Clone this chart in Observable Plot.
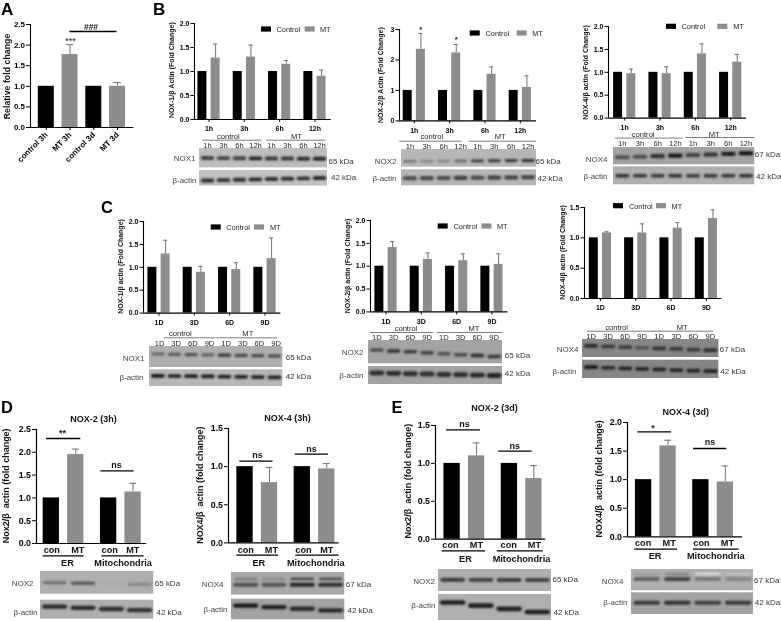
<!DOCTYPE html>
<html><head><meta charset="utf-8">
<script src="https://cdn.jsdelivr.net/npm/d3@7"></script>
<script src="https://cdn.jsdelivr.net/npm/@observablehq/plot@0.6"></script>
<style>
html,body{margin:0;padding:0;background:#fff}
#page{position:relative;width:781px;height:621px;overflow:hidden;font-family:"Liberation Sans",Arial,sans-serif;background:#fff;filter:blur(0.3px)}
#page svg{position:absolute;overflow:visible;background:transparent}
#page figure{margin:0}
.letter{position:absolute;font-weight:bold;color:#000}
</style></head><body><div id="page"></div>
<script>
// ---------- values ----------
const hours = ["1h","3h","6h","12h"];
const days = ["1D","3D","6D","9D"];
const fractions = ["ER","Mitochondria"];
const panelACats = ["control 3h","MT 3h","control 3d","MT 3d"];
const panelAMean = [1,1.77,1,1.0];
const panelAUpper = [1,2.01,1,1.09];
const control4 = [1,1,1,1];
const control2 = [1,1];
const nox1HoursMT = [1.28,1.30,1.15,0.90];
const nox1HoursUp = [1.57,1.55,1.23,1.03];
const nox2HoursMT = [2.35,2.23,1.53,1.10];
const nox2HoursUp = [2.87,2.51,1.77,1.48];
const nox4HoursMT = [0.97,0.97,1.40,1.22];
const nox4HoursUp = [1.07,1.12,1.62,1.39];
const nox1DaysMT = [1.29,0.89,0.95,1.19];
const nox1DaysUp = [1.59,1.02,1.10,1.64];
const nox2DaysMT = [1.41,1.15,1.12,1.04];
const nox2DaysUp = [1.54,1.29,1.27,1.27];
const nox4DaysMT = [1.08,1.08,1.16,1.32];
const nox4DaysUp = [1.10,1.23,1.25,1.46];
const d2MT = [1.95,1.13], d2Up = [2.07,1.32];
const d4MT = [0.79,0.97], d4Up = [0.99,1.04];
const e2MT = [1.10,0.80], e2Up = [1.27,0.97];
const e4MT = [1.59,0.96], e4Up = [1.69,1.24];
// band densities of the blots (0 white .. 1 black)
const bB1nox = [.78,.78,.78,.9,.82,.82,.85,.88], bB1act = [.85,.85,.85,.88,.85,.85,.85,.88];
const bB2nox = [.55,.48,.48,.6,.82,.82,.88,.85], bB2act = [.75,.75,.75,.78,.75,.78,.78,.78];
const bB3nox = [.72,.72,.85,.95,.8,.85,.92,.98], bB3act = [.85,.82,.82,.85,.82,.82,.82,.85];
const bC1nox = [.6,.68,.72,.65,.82,.75,.75,.72], bC1act = [.95,.92,.92,.92,.9,.9,.9,.9];
const bC2nox = [.75,.85,.8,.78,.72,.75,.88,.82], bC2act = [.85,.88,.85,.85,.85,.85,.88,.9];
const bC3nox = [.88,.82,.8,.72,.85,.82,.82,.85], bC3act = [.95,.9,.9,.9,.9,.9,.9,.92];
const bD1nox = [.6,.72,.35,.5], bD1act = [.88,.88,.85,.85];
const bD2top = [.55,.5,.8,.78], bD2low = [.72,.7,.9,.85], bD2act = [.95,.92,.88,.88];
const bE1nox = [.82,.8,.8,.78], bE1act = [.92,.92,.92,.92];
const bE2top = [.4,.5,.15,.25], bE2low = [.65,.78,.55,.5], bE2act = [.82,.85,.8,.82];
const laneHours = ["1h","3h","6h","12h","1h","3h","6h","12h"];
const laneDays = ["1D","3D","6D","9D","1D","3D","6D","9D"];

const page = document.getElementById("page");
const FONT = '"Liberation Sans", Arial, sans-serif';
const BAR = "#8c8c8c", ERR = "#6f6f6f";
const colorScale = {domain:["Control","MT"], range:["#000000",BAR]};

function place(svg, left, top){
  svg.style.left = left+"px"; svg.style.top = top+"px";
  page.appendChild(svg);
}

// Grouped-bar panel
function panel(s){
  const ml=45, mr=6, mt=24, mb=36;
  const u = px => (px - s.c0)/s.pitch;              // layout px -> group units
  const v = px => (s.y0 - px)/(s.y0 - s.yT)*s.yMax;  // layout px -> value units
  const rows = [];
  if (s.single){
    s.groups.forEach((g,i)=>rows.push({x:i, w:s.barW/2, value:s.mean[i], up:s.upper[i], series:i%2?"MT":"Control"}));
  } else {
    s.groups.forEach((g,i)=>{
      rows.push({x:i-s.off, w:s.barW/2, value:s.ctrl[i], up:s.ctrl[i], series:"Control"});
      rows.push({x:i+s.off, w:s.barW/2, value:s.mean[i], up:s.upper[i], series:"MT"});
    });
  }
  const withErr = rows.filter(d=>d.up>d.value);
  const capW = s.capW ?? s.barW*0.25;
  const marks = [
    Plot.ruleX(withErr,{x:"x",y1:"value",y2:"up",stroke:ERR,strokeWidth:1}),
    Plot.ruleY(withErr,{y:"up",x1:d=>d.x-capW,x2:d=>d.x+capW,stroke:ERR,strokeWidth:1}),
    Plot.rectY(rows,{x1:d=>d.x-d.w,x2:d=>d.x+d.w,y1:0,y2:"value",fill:"series"}),
    Plot.ruleX([u(s.axL)],{y1:0,y2:s.yMax,stroke:"#000",strokeWidth:s.axisW||1.1}),
    Plot.ruleY([0],{x1:u(s.axL),x2:u(s.axR),stroke:"#000",strokeWidth:s.axisW||1.1}),
    Plot.axisY({anchor:"left",x:u(s.axL),ticks:s.ticks,tickFormat:s.tickFormat,tickSize:s.tickLen||3.5,tickPadding:1.5,
      label:null,fontSize:s.tickFont,fontWeight:"bold",stroke:"#000",strokeWidth:1,fill:"#000"}),
    Plot.text([s.ylabel],{x:u(s.axL),y:v(s.ylabelY),dx:s.ylabelX-s.axL,rotate:-90,text:d=>d,fontSize:s.ylabelFont,fontWeight:"bold",fill:"#111"})
  ];
  if (s.xTicks !== false){
    marks.push(Plot.axisX({anchor:"bottom",y:0,ticks:s.groups.map((g,i)=>i),tickFormat:i=>s.groups[i],tickSize:3,
      tickPadding:s.xPad??3,tickRotate:s.rotate||0,label:null,fontSize:s.xFont,fontWeight:"bold",fill:"#000",stroke:"#000",strokeWidth:1}));
  }
  if (s.legend){
    const L=s.legend;
    const sw=[{a:L.k,series:"Control"},{a:L.g,series:"MT"}];
    marks.push(Plot.rect(sw,{x1:d=>u(d.a),x2:d=>u(d.a+10),y1:v(L.y+2.6),y2:v(L.y-2.6),fill:"series"}));
    marks.push(Plot.text([{a:L.kt,t:"Control"},{a:L.gt,t:"MT"}],{x:d=>u(d.a),y:v(L.y),text:"t",textAnchor:"start",fontSize:7.4,fontWeight:"normal",fill:"#222"}));
  }
  (s.brackets||[]).forEach(b=>{
    marks.push(Plot.ruleY([v(b.y)],{x1:u(b.a),x2:u(b.b),stroke:"#000",strokeWidth:b.w||1.3}));
    marks.push(Plot.text([b.t],{x:u(b.tx),y:v(b.ty),text:d=>d,fontSize:b.f||9,fontWeight:b.fw||"bold",fill:"#111"}));
  });
  (s.notes||[]).forEach(n=>marks.push(Plot.text([n.t],{x:u(n.x),y:v(n.y),text:d=>d,fontSize:n.f||9,fontWeight:n.fw||"bold",fill:n.c||"#111",textAnchor:n.anchor||"middle"})));
  (s.under||[]).forEach(n=>marks.push(Plot.ruleY([v(n.y)],{x1:u(n.a),x2:u(n.b),stroke:"#000",strokeWidth:1.2})));
  const svg = Plot.plot({
    width:(s.axR-s.axL)+ml+mr, height:(s.y0-s.yT)+mt+mb,
    marginLeft:ml, marginRight:mr, marginTop:mt, marginBottom:mb,
    style:{fontFamily:FONT,background:"transparent",overflow:"visible"},
    x:{domain:[u(s.axL),u(s.axR)],axis:null},
    y:{domain:[0,s.yMax],axis:null},
    color:colorScale,
    marks
  });
  place(svg, s.axL-ml, s.yT-mt);
}

// Western blot panel: lanes on x, page rows on y
function blot(b){
  const n=b.lanes;
  const yTop=Math.min(...b.rows.map(r=>r.top)), yBot=Math.max(...b.rows.map(r=>r.bottom));
  const bands=[];
  b.rows.forEach(r=>r.bands.forEach(t=>t.dark.forEach((dv,i)=>{
    const yy=t.y[0]+(t.y[1]-t.y[0])*i/(n-1);
    bands.push({i,y:yy,dark:dv,w:(t.w||3)+.7});
  })));
  const marks=[
    Plot.rect(b.rows,{x1:0,x2:n,y1:"top",y2:"bottom",fill:"bg"}),
    Plot.link(bands,{x1:d=>d.i+(n>4?.2:.13),x2:d=>d.i+(n>4?.8:.87),y1:"y",y2:"y",stroke:"dark",strokeWidth:"w",strokeLinecap:"round",imageFilter:"blur(0.9px)"})
  ];
  b.rows.forEach(r=>{
    marks.push(Plot.text([r.label],{x:0,y:r.labelY,dx:r.labelDx??-4,textAnchor:"end",text:d=>d,fontSize:b.font||8,fill:"#444"}));
    marks.push(Plot.text([r.kda],{x:n,y:r.kdaY,dx:r.kdaDx??1,textAnchor:"start",text:d=>d,fontSize:b.font||8,fill:"#333"}));
  });
  if (b.laneNames){
    const sh=b.shift||0;
    marks.push(Plot.text(b.laneNames,{x:(d,i)=>i+.5+sh,y:b.laneY,text:d=>d,fontSize:7.6,fill:"#222"}));
    b.head.forEach(h=>{
      marks.push(Plot.ruleY([h.y],{x1:h.a,x2:h.b,stroke:"#444",strokeWidth:.7}));
      marks.push(Plot.text([h.t],{x:h.tx,y:h.ty-.6,text:d=>d,fontSize:7.6,fill:"#222"}));
    });
  }
  const svg=Plot.plot({
    width:b.right-b.left,height:yBot-yTop,margin:0,
    style:{fontFamily:FONT,background:"transparent",overflow:"visible"},
    x:{domain:[0,n],axis:null},
    y:{domain:[yTop,yBot],range:[0,yBot-yTop],axis:null},
    color:{type:"linear",domain:[0,1],range:["#ffffff","#0c0c0c"]},
    marks
  });
  place(svg,b.left,yTop);
}

// ---------- A ----------
panel({groups:panelACats,single:true,mean:panelAMean,upper:panelAUpper,
  axL:29.5,axR:133,y0:127,yT:24,yMax:2.5,ticks:[0,.5,1,1.5,2,2.5],tickFormat:d3.format(".1f"),tickFont:8,tickLen:4,
  c0:45.3,pitch:23.75,barW:16/23.75,capW:.16,rotate:-45,xFont:8,xPad:3,
  ylabel:"Relative fold change",ylabelX:6,ylabelY:76,ylabelFont:8.8,
  brackets:[{a:69,b:116,y:31,t:"###",tx:90,ty:26.5,f:8.5}],
  notes:[{t:"***",x:69.5,y:40.5,f:9,fw:"normal"}]});

// ---------- B, C ----------
const grp={pitch:35.33,off:.187,barW:9/35.33,capW:.06,tickFont:7,ylabelFont:7,xFont:7,xPad:4};
const yTicks2={ticks:[0,.5,1,1.5,2],tickFormat:d3.format(".1f"),yMax:2};
panel({...grp,...yTicks2,groups:hours,ctrl:control4,mean:nox1HoursMT,upper:nox1HoursUp,
  axL:194.3,axR:331,y0:119.3,yT:23.3,c0:208.8,ylabel:"NOX-1/β Actin (Fold Change)",ylabelX:171.7,ylabelY:70,
  legend:{k:261.3,kt:276.3,g:305,gt:319.7,y:29.3}});
panel({...grp,ticks:[0,1,2,3],tickFormat:d3.format("d"),yMax:3,groups:hours,ctrl:control4,mean:nox2HoursMT,upper:nox2HoursUp,
  axL:399,axR:536,y0:120.7,yT:29.3,c0:413.8,ylabel:"NOX-2/β Actin (Fold Change)",ylabelX:380.7,ylabelY:75,
  legend:{k:469.7,kt:485,g:516.7,gt:531.7,y:33.3},
  notes:[{t:"*",x:420.3,y:29,f:8},{t:"*",x:455.7,y:39.5,f:8}]});
panel({...grp,...yTicks2,groups:hours,ctrl:control4,mean:nox4HoursMT,upper:nox4HoursUp,
  axL:608,axR:746,y0:117.3,yT:25.7,c0:624.2,ylabel:"NOX-4/β actin (Fold Change)",ylabelX:585,ylabelY:71.7,
  legend:{k:666,kt:681,g:717.3,gt:732.7,y:26}});
panel({...grp,...yTicks2,groups:days,ctrl:control4,mean:nox1DaysMT,upper:nox1DaysUp,
  axL:143.3,axR:280.7,y0:312.3,yT:220.7,c0:158.8,ylabel:"NOX-1/β actin (Fold Change)",ylabelX:120.7,ylabelY:265.7,
  legend:{k:211,kt:226,g:254.3,gt:269.7,y:226.7}});
panel({...grp,...yTicks2,groups:days,ctrl:control4,mean:nox2DaysMT,upper:nox2DaysUp,
  axL:370.3,axR:507.7,y0:311.7,yT:220.3,c0:385.8,ylabel:"NOX-2/β actin (Fold Change)",ylabelX:347.3,ylabelY:265.7,
  legend:{k:438,kt:453.3,g:481.7,gt:496.7,y:226.3}});
panel({...grp,ticks:[0,.5,1,1.5],tickFormat:d3.format(".1f"),yMax:1.5,groups:days,ctrl:control4,mean:nox4DaysMT,upper:nox4DaysUp,
  axL:584.3,axR:721.7,y0:298.3,yT:207.3,c0:600.2,ylabel:"NOX-4/β actin (Fold Change)",ylabelX:562.3,ylabelY:252.3,
  legend:{k:613.3,kt:628.7,g:656.3,gt:671.3,y:206}});

// ---------- D, E ----------
const grp2={pitch:57.3,off:.2135,barW:16.3/57.3,capW:.06,tickFont:8.8,ylabelFont:9,xTicks:false,axisW:1.2,tickLen:4};
function fracNotes(title,tx,ty,con1,mt1,con2,mt2,ly,er,mito,gy,ua,ub,uc,ud,uy){
  return {notes:[{t:title,x:tx,y:ty,f:9},
    {t:"con",x:con1,y:ly,f:9.2},{t:"MT",x:mt1,y:ly,f:9.2},{t:"con",x:con2,y:ly,f:9.2},{t:"MT",x:mt2,y:ly,f:9.2},
    {t:"ER",x:er,y:gy,f:9.2},{t:"Mitochondria",x:mito,y:gy,f:9.2}],
    under:[{a:ua,b:ub,y:uy},{a:uc,b:ud,y:uy}]};
}
panel({...grp2,groups:fractions,ctrl:control2,mean:d2MT,upper:d2Up,ticks:[0,.5,1,1.5,2,2.5],tickFormat:d3.format(".1f"),yMax:2.5,
  axL:35.7,axR:146,y0:542.7,yT:428.7,c0:62.75,ylabel:"Nox2/β  actin (fold change)",ylabelX:5.7,ylabelY:485,
  brackets:[{a:45.7,b:80,y:437.7,t:"**",tx:61.7,ty:432.5},{a:100,b:133.3,y:470,t:"ns",tx:115.7,ty:464.7}],
  ...fracNotes("NOX-2 (3h)",92.7,418.3,51,77,109,132,549.3,66.7,122.3,562.7,42.3,83.3,101,143.3,555)});
panel({...grp2,groups:fractions,ctrl:control2,mean:d4MT,upper:d4Up,ticks:[0,.5,1,1.5],tickFormat:d3.format(".1f"),yMax:1.5,
  axL:227.7,axR:338.3,y0:542.7,yT:428.3,c0:256.45,ylabel:"NOX4/β  actin (fold change)",ylabelX:199,ylabelY:485,
  brackets:[{a:239,b:272.3,y:461,t:"ns",tx:256.7,ty:455},{a:294.3,b:327.7,y:454,t:"ns",tx:310.7,ty:449}],
  ...fracNotes("NOX-4 (3h)",286.7,417.7,245,270.7,302.7,326,550,258,315,562.7,236,277.7,295,338.3,555)});
panel({...grp2,groups:fractions,ctrl:control2,mean:e2MT,upper:e2Up,ticks:[0,.5,1,1.5],tickFormat:d3.format(".1f"),yMax:1.5,
  axL:435,axR:545.3,y0:539,yT:425.3,c0:463.85,ylabel:"Nox2/β  actin (fold change)",ylabelX:407.3,ylabelY:481,
  brackets:[{a:446,b:480,y:429.7,t:"ns",tx:464,ty:424},{a:498.3,b:531.7,y:451,t:"ns",tx:514.3,ty:445.7}],
  ...fracNotes("NOX-2 (3d)",494,407.7,450,476,508.3,534,545.3,465,521,558.7,441.7,485,496.7,542.7,550.7)});
panel({...grp2,groups:fractions,ctrl:control2,mean:e4MT,upper:e4Up,ticks:[0,.5,1,1.5,2],tickFormat:d3.format(".1f"),yMax:2,
  axL:626.7,axR:741.7,y0:536,yT:421.7,c0:655,ylabel:"NOX4/β  actin (fold change)",ylabelX:598.3,ylabelY:478,
  brackets:[{a:637,b:670.7,y:431,t:"*",tx:652.3,ty:427},{a:692.7,b:726,y:447.7,t:"ns",tx:709.3,ty:441.7}],
  ...fracNotes("NOX-4 (3d)",685,411.7,642.3,668.3,700.7,726.7,542.3,654.3,715,555,634,676.7,692.7,738.3,548.3)});

// ---------- blots ----------
blot({left:199.3,right:327.3,lanes:8,laneNames:laneHours,laneY:145,
  head:[{a:.2,b:3.9,y:140,t:"control",tx:1.8,ty:137},{a:4.2,b:7.9,y:140,t:"MT",tx:6.06,ty:137}],
  rows:[{top:148.3,bottom:167.7,bg:.27,label:"NOX1",labelY:158.7,kda:"65 kDa",kdaY:161,kdaDx:1,bands:[{y:[157.8,158.6],dark:bB1nox,w:3.2}]},
        {top:170.3,bottom:186,bg:.25,label:"β-actin",labelY:180,labelDx:-3,kda:"42 kDa",kdaY:177.7,kdaDx:3.5,bands:[{y:[180.3,177.8],dark:bB1act,w:3.2}]}]});
blot({left:401,right:536,lanes:8,laneNames:laneHours,laneY:145.7,
  head:[{a:-.1,b:3.6,y:140.7,t:"control",tx:1.8,ty:137},{a:4,b:8,y:140.7,t:"MT",tx:5.85,ty:137}],
  rows:[{top:149,bottom:166.7,bg:.3,label:"NOX2",labelY:160.7,labelDx:-5,kda:"65 kDa",kdaY:160.7,kdaDx:-1,bands:[{y:[160.8,160],dark:bB2nox,w:2.2}]},
        {top:169.3,bottom:185.3,bg:.3,label:"β-actin",labelY:178,labelDx:-5,kda:"42 kDa",kdaY:178,kdaDx:1,bands:[{y:[177.8,176.8],dark:bB2act,w:3.4}]}]});
blot({left:612.7,right:754,lanes:8,laneNames:laneHours,laneY:142.7,
  head:[{a:.1,b:3.95,y:137.3,t:"control",tx:1.68,ty:134.6},{a:4.1,b:8,y:136.7,t:"MT",tx:5.7,ty:134}],
  rows:[{top:146.7,bottom:164,bg:.38,label:"NOX4",labelY:158.3,labelDx:-6,kda:"67 kDa",kdaY:154,kdaDx:0,bands:[{y:[156.5,152.5],dark:bB3nox,w:3.4}]},
        {top:166,bottom:184,bg:.33,label:"β-actin",labelY:175.7,labelDx:-6,kda:"42 kDa",kdaY:175.3,kdaDx:1.3,bands:[{y:[175,175],dark:bB3act,w:2.8}]}]});
blot({left:148.7,right:282,lanes:8,laneNames:laneDays,laneY:342.3,shift:.1,
  head:[{a:.9,b:4,y:337,t:"control",tx:1.85,ty:333.3},{a:4.05,b:7.7,y:337,t:"MT",tx:5.9,ty:333.3}],
  rows:[{top:345.7,bottom:366.7,bg:.33,label:"NOX1",labelY:357.3,labelDx:-5,kda:"65 kDa",kdaY:357,kdaDx:3,bands:[{y:[353.2,355.2],dark:bC1nox,w:2.6}]},
        {top:369,bottom:385.7,bg:.3,label:"β-actin",labelY:376.7,labelDx:-6,kda:"42 kDa",kdaY:376,kdaDx:3,bands:[{y:[375,376.5],dark:bC1act,w:3}]}]});
blot({left:367.7,right:501.7,lanes:8,laneNames:laneDays,laneY:336.9,
  head:[{a:.1,b:3.9,y:332,t:"control",tx:2.24,ty:329},{a:4.1,b:8,y:332,t:"MT",tx:6.3,ty:329}],
  rows:[{top:340,bottom:363.3,bg:.38,label:"NOX2",labelY:351.7,labelDx:-5,kda:"65 kDa",kdaY:354.7,kdaDx:2.3,bands:[{y:[349.5,356],dark:bC2nox,w:2.8}]},
        {top:366,bottom:384,bg:.38,label:"β-actin",labelY:375,labelDx:-5,kda:"42 kDa",kdaY:373.3,kdaDx:2.3,bands:[{y:[372.5,375],dark:bC2act,w:4.2}]}]});
blot({left:582.3,right:718.7,lanes:8,laneNames:laneDays,laneY:336,
  head:[{a:.3,b:4.1,y:331,t:"control",tx:2,ty:327.7},{a:4.1,b:7.7,y:331,t:"MT",tx:5.85,ty:327.7}],
  rows:[{top:339.3,bottom:357.3,bg:.5,label:"NOX4",labelY:349.7,labelDx:-4,kda:"67 kDa",kdaY:349,kdaDx:1,bands:[{y:[345.7,350],dark:bC3nox,w:3}]},
        {top:360,bottom:378.3,bg:.5,label:"β-actin",labelY:371.3,labelDx:-6,kda:"42 kDa",kdaY:371.7,kdaDx:1.5,bands:[{y:[367,371],dark:bC3act,w:3}]}]});
blot({left:40,right:153.3,lanes:4,
  rows:[{top:571.3,bottom:594,bg:.33,label:"NOX2",labelY:583.7,labelDx:-7,kda:"65 kDa",kdaY:583.3,kdaDx:1,bands:[{y:[582.5,584],dark:bD1nox,w:2.3}]},
        {top:600,bottom:619,bg:.33,label:"β-actin",labelY:612,labelDx:-3,kda:"42 kDa",kdaY:612.7,kdaDx:2.7,bands:[{y:[606.5,610],dark:bD1act,w:3.6}]}]});
blot({left:230.7,right:344,lanes:4,
  rows:[{top:571.7,bottom:594.3,bg:.36,label:"NOX4",labelY:583.7,labelDx:-8,kda:"67 kDa",kdaY:584,kdaDx:1,bands:[{y:[578.2,578],dark:bD2top,w:1.6},{y:[584,584],dark:bD2low,w:3.4}]},
        {top:598.3,bottom:619,bg:.38,label:"β-actin",labelY:608.3,labelDx:-4,kda:"42 kDa",kdaY:610,kdaDx:2.7,bands:[{y:[604.8,609.5],dark:bD2act,w:3.6}]}]});
blot({left:437.7,right:550.7,lanes:4,
  rows:[{top:569,bottom:591,bg:.33,label:"NOX2",labelY:580.7,labelDx:-3.5,kda:"65 kDa",kdaY:579.3,kdaDx:1,bands:[{y:[579.3,579.5],dark:bE1nox,w:3.2}]},
        {top:594,bottom:620,bg:.33,label:"β-actin",labelY:605,labelDx:-3,kda:"42 kDa",kdaY:611.7,kdaDx:2,bands:[{y:[602,611.5],dark:bE1act,w:4}]}]});
blot({left:630.7,right:752.7,lanes:4,
  rows:[{top:569,bottom:590.3,bg:.33,label:"NOX4",labelY:580.7,labelDx:-8,kda:"67 kDa",kdaY:580,kdaDx:.6,bands:[{y:[573.5,573.5],dark:bE2top,w:1.6},{y:[578.5,578.5],dark:bE2low,w:3.2}]},
        {top:592.3,bottom:614,bg:.38,label:"β-actin",labelY:602.3,labelDx:-4,kda:"42 kDa",kdaY:601.7,kdaDx:1.3,bands:[{y:[602.3,602.3],dark:bE2act,w:3.4}]}]});

// ---------- panel letters ----------
[["A",1,0,17],["B",153,0,17],["C",101,198,16.5],["D",1,398,16.5],["E",391.5,398,16.5]].forEach(([t,x,y,f])=>{
  const d=document.createElement("div");d.className="letter";d.textContent=t;d.style.left=x+"px";d.style.top=y+"px";d.style.fontSize=f+"px";page.appendChild(d);
});
</script></body></html>
